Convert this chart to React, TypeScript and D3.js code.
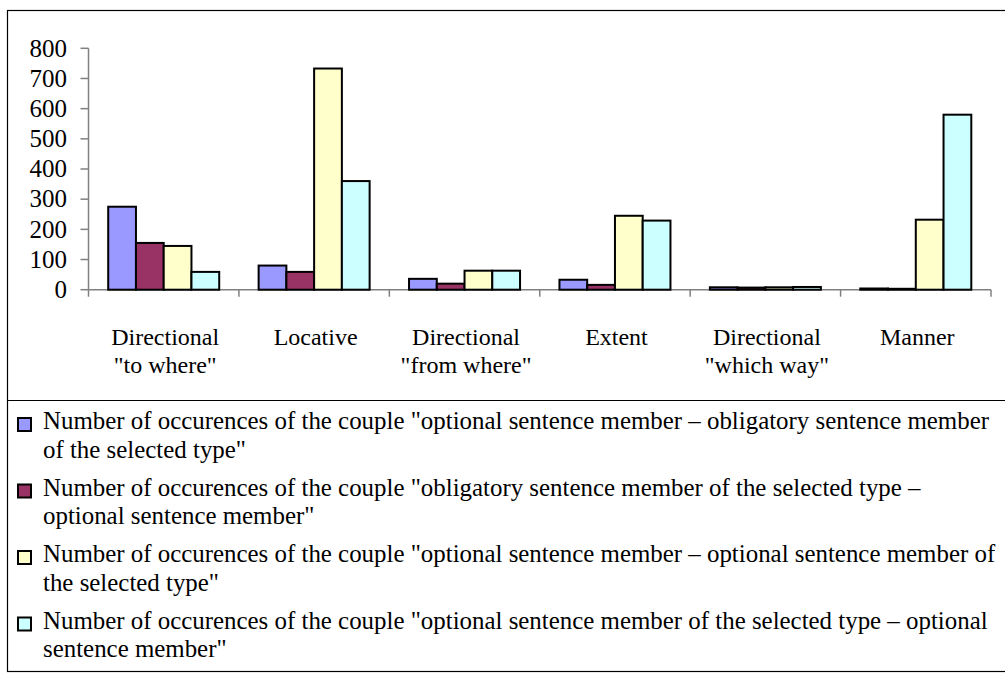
import * as d3 from 'd3'

const categories = [
  ['Directional', '"to where"'],
  ['Locative'],
  ['Directional', '"from where"'],
  ['Extent'],
  ['Directional', '"which way"'],
  ['Manner'],
]

const optObl = [275, 80, 36, 33, 8, 4]
const oblOpt = [155, 59, 20, 16, 7, 3]
const optOptSel = [145, 733, 63, 245, 8, 232]
const optSelOpt = [59, 360, 63, 229, 9, 580]

const yTicks = [0, 100, 200, 300, 400, 500, 600, 700, 800]

const legendLines = [
  ['Number of occurences of the couple "optional sentence member \u2013 obligatory sentence member', 'of the selected type"'],
  ['Number of occurences of the couple "obligatory sentence member of the selected type \u2013', 'optional sentence member"'],
  ['Number of occurences of the couple "optional sentence member \u2013 optional sentence member of', 'the selected type"'],
  ['Number of occurences of the couple "optional sentence member of the selected type \u2013 optional', 'sentence member"'],
]

const series = [
  { key: 's1', values: optObl, color: '#9999ff' },
  { key: 's2', values: oblOpt, color: '#993366' },
  { key: 's3', values: optOptSel, color: '#ffffcc' },
  { key: 's4', values: optSelOpt, color: '#ccffff' },
]

const W = 1005
const H = 673
const font = "'Liberation Serif', 'Times New Roman', 'DejaVu Serif', serif"

export default function App() {
  const plot = { left: 88.5, right: 991, top: 48.3, bottom: 289.7 }

  const x0 = d3.scaleBand<number>()
    .domain(categories.map((_, i) => i))
    .range([plot.left, plot.right])
    .paddingInner(0.262)
    .paddingOuter(0.131)

  const x1 = d3.scaleBand<string>()
    .domain(series.map(s => s.key))
    .range([0, x0.bandwidth()])

  const y = d3.scaleLinear().domain([0, 800]).range([plot.bottom, plot.top])

  const step = x0.step()
  const tickXs = d3.range(categories.length + 1).map(i => plot.left + i * step)

  return (
    <svg width={W} height={H} style={{ position: 'absolute', left: 0, top: 0, background: '#fff', fontFamily: font }}>
      {/* outer frame */}
      <rect x={7.5} y={10.5} width={1010} height={661} fill="#fff" stroke="#000" strokeWidth={1.2} />

      {/* axes */}
      <line x1={plot.left} x2={plot.left} y1={plot.top} y2={plot.bottom} stroke="#808080" strokeWidth={1.5} />
      <line x1={plot.left} x2={plot.right} y1={plot.bottom} y2={plot.bottom} stroke="#808080" strokeWidth={1.5} />
      {yTicks.map(t => (
        <g key={t}>
          <line x1={plot.left - 8} x2={plot.left} y1={y(t)} y2={y(t)} stroke="#808080" strokeWidth={1.5} />
          <text x={67} y={y(t)} dy="0.33em" textAnchor="end" fontSize={25} fill="#000">{t}</text>
        </g>
      ))}
      {tickXs.map((tx, i) => (
        <line key={i} x1={tx} x2={tx} y1={plot.bottom} y2={plot.bottom + 7} stroke="#808080" strokeWidth={1.5} />
      ))}

      {/* bars */}
      {series.map(s => (
        <g key={s.key}>
          {s.values.map((v, i) => (
            <rect
              key={i}
              x={x0(i)! + x1(s.key)!}
              y={y(v)}
              width={x1.bandwidth()}
              height={y(0) - y(v)}
              fill={s.color}
              stroke="#000"
              strokeWidth={2}
            />
          ))}
        </g>
      ))}

      {/* category labels */}
      {categories.map((lines, i) => (
        <text key={i} textAnchor="middle" fontSize={24} fill="#000">
          {lines.map((l, j) => (
            <tspan key={j} x={x0(i)! + x0.bandwidth() / 2 + 1.5} y={345 + j * 28}>{l}</tspan>
          ))}
        </text>
      ))}

      {/* legend */}
      <line x1={7.5} x2={1010} y1={400.5} y2={400.5} stroke="#000" strokeWidth={1.2} />
      {series.map((s, i) => {
        const base = 429 + i * 66.5
        return (
          <g key={s.key}>
            <rect x={18} y={base - 11} width={13} height={13} fill={s.color} stroke="#000" strokeWidth={2} />
            <text fontSize={24.9} fill="#000">
              {legendLines[i].map((l, j) => (
                <tspan key={j} x={43} y={base + j * 28.5}>{l}</tspan>
              ))}
            </text>
          </g>
        )
      })}
    </svg>
  )
}
